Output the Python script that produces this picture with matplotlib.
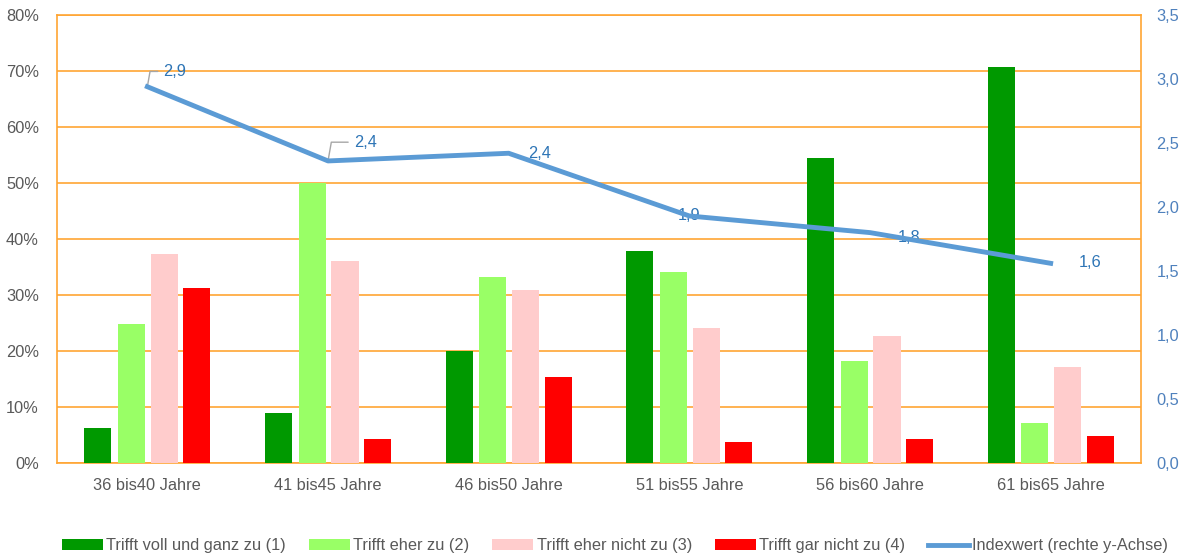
import numpy as np;
import matplotlib.pyplot as plt;
from matplotlib.ticker import FuncFormatter;

plt.rcParams['font.family'] = ['Liberation Sans', 'DejaVu Sans']

groups = ["36 bis40 Jahre", "41 bis45 Jahre", "46 bis50 Jahre", "51 bis55 Jahre", "56 bis60 Jahre", "61 bis65 Jahre"]
voll = [6.3, 9.0, 20.0, 37.9, 54.5, 70.7]
eher = [24.8, 50.0, 33.2, 34.1, 18.2, 7.1]
eher_nicht = [37.3, 36.1, 30.9, 24.1, 22.7, 17.1]
gar_nicht = [31.2, 4.3, 15.4, 3.8, 4.3, 4.8]
index = [2.94, 2.36, 2.42, 1.93, 1.80, 1.56]

series = [("Trifft voll und ganz zu (1)", voll, "#009900"),
          ("Trifft eher zu (2)", eher, "#99FF66"),
          ("Trifft eher nicht zu (3)", eher_nicht, "#FFCCCC"),
          ("Trifft gar nicht zu (4)", gar_nicht, "#FF0000")]

grid_col = "#FFA533"
blue = "#5B9BD5"
fs = 11.8

fig = plt.figure(figsize=(11.83, 5.57), dpi=100)
ax = fig.add_axes([0.0482, 0.1688, 0.9163, 0.8042])
x = np.arange(len(groups))

offsets = [-0.274, -0.088, 0.094, 0.274]
for (name, vals, col), off in zip(series, offsets):
    ax.bar(x + off, vals, width=0.15, color=col, label=name, zorder=3)

ax.set_xlim(-0.5, len(groups) - 0.5)
ax.set_ylim(0, 80)
ax.set_yticks(np.arange(0, 81, 10))
ax.yaxis.set_major_formatter(FuncFormatter(lambda v, p: "%d%%" % v))
ax.set_xticks(x)
ax.set_xticklabels(groups)
ax.grid(axis='y', color=grid_col, linewidth=1.2, zorder=0)
for s in ax.spines.values():
    s.set_color(grid_col)
    s.set_linewidth(1.2)
ax.tick_params(length=0, labelsize=fs, labelcolor="#595959")
ax.tick_params(axis='x', pad=11)
ax.tick_params(axis='y', pad=13)

ax2 = ax.twinx()
ax2.plot(x, index, color=blue, linewidth=3.5, label="Indexwert (rechte y-Achse)", zorder=4)
ax2.set_ylim(0, 3.5)
ax2.set_yticks(np.arange(0, 3.51, 0.5))
ax2.yaxis.set_major_formatter(FuncFormatter(lambda v, p: ("%.1f" % v).replace(".", ",")))
ax2.tick_params(length=0, labelsize=fs, labelcolor="#4F81BD", pad=11)
for s in ax2.spines.values():
    s.set_visible(False)

# data labels (offsets in points), first two with leader lines
lab_off = [(11.5, 11), (18.5, 13.5), (14, 0), (0, 0), (20, -3.5), (20, 0.5)]
for i, v in enumerate(index):
    txt = ("%.1f" % v).replace(".", ",")
    dx, dy = lab_off[i]
    if i < 2:
        ax2.annotate(txt, xy=(x[i], v), xytext=(dx, dy), textcoords='offset points',
                     ha='left', va='center', fontsize=fs, color="#2E75B6",
                     arrowprops=dict(arrowstyle='-', color='#A6A6A6', lw=1,
                                     connectionstyle='angle,angleA=0,angleB=80,rad=0',
                                     shrinkA=2, shrinkB=1))
    else:
        ax2.annotate(txt, xy=(x[i], v), xytext=(dx, dy), textcoords='offset points',
                     ha='center' if i == 3 else 'left', va='center', fontsize=fs, color="#2E75B6")

h1, l1 = ax.get_legend_handles_labels()
h2, l2 = ax2.get_legend_handles_labels()
fig.legend(h1 + h2, l1 + l2, loc='center', bbox_to_anchor=(0.52, 0.02), ncol=5,
           frameon=False, fontsize=fs, handlelength=2.5, handleheight=0.65,
           handletextpad=0.2, columnspacing=1.4, labelcolor="#595959")

fig.savefig("out.png", dpi=100)
